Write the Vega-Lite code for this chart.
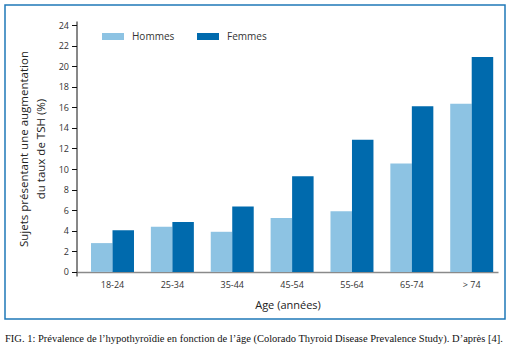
{
  "$schema": "https://vega.github.io/schema/vega-lite/v6.json",
  "width": 500,
  "height": 314,
  "autosize": {"type": "none"},
  "padding": {"left": 5, "top": 5, "right": 5, "bottom": 43},
  "background": "white",
  "config": {
    "view": {"stroke": "#1f78b8", "strokeWidth": 1.5},
    "font": "Open Sans"
  },
  "title": {
    "text": "FIG. 1: Prévalence de l’hypothyroïdie en fonction de l’âge (Colorado Thyroid Disease Prevalence Study). D’après [4].",
    "orient": "bottom",
    "anchor": "start",
    "font": "Liberation Serif",
    "fontSize": 10.5,
    "fontWeight": "normal",
    "color": "#111111",
    "offset": 15
  },
  "data": {
    "values": [
      {"age": "18-24", "sexe": "Hommes", "valeur": 2.8},
      {"age": "18-24", "sexe": "Femmes", "valeur": 4.05},
      {"age": "25-34", "sexe": "Hommes", "valeur": 4.4},
      {"age": "25-34", "sexe": "Femmes", "valeur": 4.85},
      {"age": "35-44", "sexe": "Hommes", "valeur": 3.9},
      {"age": "35-44", "sexe": "Femmes", "valeur": 6.35},
      {"age": "45-54", "sexe": "Hommes", "valeur": 5.25},
      {"age": "45-54", "sexe": "Femmes", "valeur": 9.3},
      {"age": "55-64", "sexe": "Hommes", "valeur": 5.9},
      {"age": "55-64", "sexe": "Femmes", "valeur": 12.85},
      {"age": "65-74", "sexe": "Hommes", "valeur": 10.55},
      {"age": "65-74", "sexe": "Femmes", "valeur": 16.1},
      {"age": "> 74", "sexe": "Hommes", "valeur": 16.35},
      {"age": "> 74", "sexe": "Femmes", "valeur": 20.9}
    ]
  },
  "mark": {"type": "bar"},
  "encoding": {
    "x": {
      "field": "age",
      "type": "nominal",
      "sort": ["18-24", "25-34", "35-44", "45-54", "55-64", "65-74", "> 74"],
      "scale": {"range": [72, 493], "paddingInner": 0.282, "paddingOuter": 0.157, "align": 0.745},
      "axis": {
        "title": "Age (années)",
        "titleFont": "Open Sans",
        "titleFontSize": 11,
        "titleFontWeight": "normal",
        "titleColor": "#222222",
        "titlePadding": 10,
        "labelAngle": 0,
        "labelFontSize": 9,
        "labelColor": "#333333",
        "labelPadding": 8,
        "ticks": false,
        "domainColor": "#8a8a8a",
        "domainWidth": 1.5,
        "offset": -47
      }
    },
    "xOffset": {
      "field": "sexe",
      "type": "nominal",
      "sort": ["Hommes", "Femmes"],
      "scale": {"paddingInner": 0, "paddingOuter": 0}
    },
    "y": {
      "field": "valeur",
      "type": "quantitative",
      "scale": {"domain": [-0.4, 24.4], "range": [271, 16], "nice": false, "zero": false},
      "axis": {
        "values": [0, 2, 4, 6, 8, 10, 12, 14, 16, 18, 20, 22, 24],
        "title": ["Sujets présentant une augmentation", "du taux de TSH (%)"],
        "titleFont": "Open Sans",
        "titleFontSize": 11.5,
        "titleFontWeight": "normal",
        "titleColor": "#222222",
        "titleLineHeight": 17,
        "titlePadding": 12,
        "labelFontSize": 9,
        "labelColor": "#333333",
        "labelPadding": 3,
        "grid": false,
        "tickColor": "#111111",
        "tickSize": 5,
        "domainColor": "#111111",
        "domainWidth": 1,
        "offset": -71.5
      }
    },
    "y2": {"datum": 0},
    "color": {
      "field": "sexe",
      "type": "nominal",
      "scale": {"domain": ["Hommes", "Femmes"], "range": ["#8dc3e3", "#006aad"]},
      "legend": {
        "title": null,
        "orient": "none",
        "legendX": 97,
        "legendY": 20.5,
        "direction": "horizontal",
        "symbolType": "M-1,-0.32L1,-0.32L1,0.32L-1,0.32Z",
        "symbolSize": 484,
        "symbolStrokeWidth": 0,
        "labelFont": "Open Sans",
        "labelFontSize": 10,
        "labelColor": "#333333",
        "labelOffset": 8,
        "columnPadding": 22,
        "padding": 0
      }
    }
  }
}
